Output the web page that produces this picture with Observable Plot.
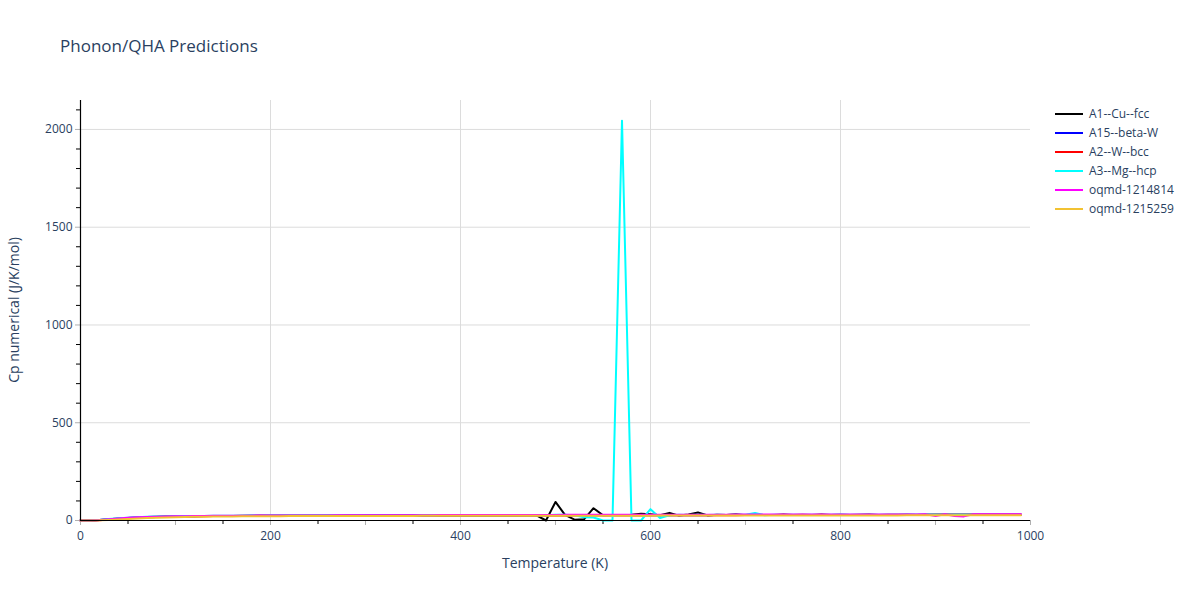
<!DOCTYPE html>
<html>
<head>
<meta charset="utf-8">
<script src="https://cdn.jsdelivr.net/npm/d3@7"></script>
<script src="https://cdn.jsdelivr.net/npm/@observablehq/plot@0.6"></script>
<style>
  html, body { margin: 0; padding: 0; background: white; }
  #wrap { position: relative; width: 1200px; height: 600px; font-family: "Open Sans", sans-serif; color: #2a3f5f; }
  #title { position: absolute; left: 60px; top: 34px; font-size: 17px; white-space: nowrap; }
  .axt { position: absolute; font-size: 14px; white-space: nowrap; }
  #xt { left: 555px; top: 553px; transform: translateX(-50%); }
  #yt { left: 13px; top: 310px; transform: translate(-50%, -50%) rotate(-90deg); }
  #legend { position: absolute; left: 1055px; top: 104px; font-size: 12px; }
  .li { display: flex; align-items: center; height: 19px; }
  .sw { width: 28px; height: 2px; margin-right: 6px; }
</style>
</head>
<body>
<div id="wrap">
  <div id="chart"></div>
  <div id="title">Phonon/QHA Predictions</div>
  <div class="axt" id="xt">Temperature (K)</div>
  <div class="axt" id="yt">Cp numerical (J/K/mol)</div>
  <div id="legend"></div>
</div>
<script>
const temperature = [0,10,20,30,40,50,60,70,80,90,100,110,120,130,140,150,160,170,180,190,200,210,220,230,240,250,260,270,280,290,300,310,320,330,340,350,360,370,380,390,400,410,420,430,440,450,460,470,480,490,500,510,520,530,540,550,560,570,580,590,600,610,620,630,640,650,660,670,680,690,700,710,720,730,740,750,760,770,780,790,800,810,820,830,840,850,860,870,880,890,900,910,920,930,940,950,960,970,980,990];

const cuFcc = [0,0.4,2.5,6.3,10.1,13.2,15.6,17.4,18.8,19.9,20.8,21.5,22.0,22.5,22.9,23.2,
  23.5,23.7,23.9,24.1,24.2,24.3,24.4,24.5,24.6,24.7,24.8,24.9,25.0,25.0,
  25.1,25.2,25.2,25.3,25.4,25.4,25.5,25.6,25.6,25.7,25.8,25.8,25.9,26.0,26.0,26.1,26.2,26.3,
  26.8,0,95,29,4,6,63,27,28,27.5,29,34,32,27,39,25,31,41,26,29,28.5,32,27.5,29,28,27.8,30.5,28.2,29.5,28.1,30.8,28.4,29.2,28.6,29.0,30.2,28.3,29.4,29.8,29.1,28.7,29.5,29.0,29.3,28.8,29.6,29.2,29.0,29.4,29.1,29.3,29.2];

const betaW = [0,0.3,2.0,5.4,9.2,12.5,15.0,17.0,18.5,19.7,20.6,21.3,21.9,22.4,22.8,23.1,
  23.4,23.6,23.8,24.0,24.1,24.2,24.3,24.4,24.5,24.6,24.7,24.8,24.8,24.9,
  25.0,25.1,25.1,25.2,25.3,25.3,25.4,25.5,25.5,25.6,25.7,25.7,25.8,25.9,25.9,26.0,26.1,26.1,
  26.2,26.3,26.3,26.4,26.5,26.5,26.6,26.7,26.7,26.8,26.9,26.9,27.0,27.1,27.1,27.2,27.3,27.3,27.4,27.5,27.5,27.6,27.7,27.7,27.8,27.9,27.9,28.0,28.1,28.1,28.2,28.3,28.3,28.4,28.5,28.5,28.6,28.7,28.7,28.8,28.9,28.9,29.0,29.1,29.1,29.2,29.3,29.3,29.4,29.5,29.5,29.6];

const wBcc = [0,0.2,1.6,4.6,8.2,11.5,14.1,16.2,17.8,19.1,20.1,20.9,21.5,22.0,22.4,22.8,
  23.1,23.3,23.5,23.7,23.9,24.0,24.1,24.2,24.3,24.4,24.5,24.6,24.7,24.7,
  24.8,24.9,24.9,25.0,25.1,25.1,25.2,25.3,25.3,25.4,25.5,25.5,25.6,25.7,25.7,25.8,25.9,25.9,
  26.0,26.1,26.1,26.2,26.3,26.3,26.4,26.5,26.5,26.6,26.7,26.7,26.8,26.9,26.9,27.0,27.1,27.1,27.2,27.3,27.3,27.4,27.5,27.5,27.6,27.7,27.7,27.8,27.9,27.9,28.0,28.1,28.1,28.2,28.3,28.3,28.4,28.5,28.5,28.6,28.7,28.7,28.8,28.9,28.9,29.0,29.1,29.1,29.2,29.3,29.3,29.4];

const mgHcp = [0,0.6,3.2,7.3,11.3,14.4,16.8,18.6,19.9,20.9,21.7,22.4,22.9,23.3,23.7,24.0,
  24.3,24.5,24.7,24.9,25.0,25.1,25.2,25.3,25.4,25.5,25.6,25.7,25.8,25.8,
  25.9,26.0,26.0,26.1,26.2,26.2,26.3,26.4,26.4,26.5,26.6,26.6,26.7,26.8,26.8,26.9,27.0,27.1,
  28.5,27,29,30,27,16,15,0,0,2045,0,0,58,13,27,29,28,30,28,29.5,28,29,30,38,27,29,28.5,30,28,29.5,28.6,29.2,30.4,28.8,29.5,29.0,29.8,28.9,29.4,30.0,29.1,29.6,29.2,29.9,29.3,29.5,29.8,29.4,29.7,29.5,29.6,29.4];

const oqmd1214814 = [0,0.5,2.8,6.8,10.8,14.0,16.4,18.2,19.6,20.7,21.6,22.3,22.9,23.4,23.8,24.1,
  24.4,24.7,24.9,25.1,25.3,25.5,25.7,25.8,26.0,26.1,26.2,26.4,26.5,26.6,
  26.7,26.8,26.9,27.0,27.1,27.2,27.3,27.4,27.5,27.6,27.7,27.8,27.9,28.0,28.1,28.2,28.3,28.4,
  28.5,28.6,28.7,28.8,28.9,29.0,29.0,29.1,29.2,29.3,29.3,29.4,29.5,29.5,29.6,29.7,29.7,29.8,29.9,29.9,30.0,30.1,30.1,30.2,30.3,30.3,30.4,30.5,30.5,30.6,30.7,30.7,30.8,30.9,30.9,31.0,31.1,31.1,31.2,31.3,31.3,31.4,22.5,31.5,23.0,21.0,31.6,31.7,31.7,31.8,31.9,31.9];

const oqmd1215259 = [0,0.1,0.9,2.8,5.4,8.0,10.4,12.5,14.3,15.8,17.0,18.0,18.8,19.5,20.1,20.6,
  21.0,21.3,21.6,21.9,22.1,22.3,22.5,22.6,22.7,22.8,22.9,23.0,23.1,23.2,
  23.3,23.3,23.4,23.5,23.5,23.6,23.7,23.7,23.8,23.8,23.9,24.0,24.0,24.1,24.1,24.2,24.2,24.3,
  24.3,24.4,24.4,24.5,24.5,24.6,24.6,24.7,24.7,24.8,24.8,24.9,24.9,25.0,25.0,25.1,25.1,25.2,25.2,25.3,25.3,25.4,25.4,25.5,25.5,25.6,25.6,25.7,25.7,25.8,25.8,25.9,25.9,26.0,26.0,26.1,26.1,26.2,26.2,26.3,26.3,26.4,26.4,26.5,26.5,26.6,26.6,26.7,26.7,26.8,26.8,26.9];

const seriesNames = ["A1--Cu--fcc","A15--beta-W","A2--W--bcc","A3--Mg--hcp","oqmd-1214814","oqmd-1215259"];
const seriesValues = [cuFcc, betaW, wBcc, mgHcp, oqmd1214814, oqmd1215259];
const seriesColors = ["#000000","#0000ff","#ff0000","#00ffff","#ff00ff","#f2c232"];

const xLabelTicks = [0,200,400,600,800,1000];
const xGridTicks = [200,400,600,800];
const xMajorTicks = [0,100,200,300,400,500,600,700,800,900,1000];
const xMinorTicks = [50,150,250,350,450,550,650,750,850,950];
const yLabelTicks = [0,500,1000,1500,2000];
const yGridTicks = [500,1000,1500,2000];
const yMinorTicks = [100,200,300,400,600,700,800,900,1100,1200,1300,1400,1600,1700,1800,1900,2100];

const plain = d => String(d);

const marks = [
  Plot.gridX(xGridTicks, {stroke: "#dcdcdc", strokeOpacity: 1, strokeWidth: 1}),
  Plot.gridY(yGridTicks, {stroke: "#dcdcdc", strokeOpacity: 1, strokeWidth: 1}),
  Plot.axisX(xMinorTicks, {tickSize: 4, stroke: "#000", tickFormat: () => "", label: null}),
  Plot.axisX(xMajorTicks, {tickSize: 5, stroke: "#b0b0b0", tickFormat: () => "", label: null}),
  Plot.axisX(xLabelTicks, {tickSize: 0, tickPadding: 11, fontSize: 12, fill: "#2a3f5f", tickFormat: plain, label: null}),
  Plot.axisY(yMinorTicks, {tickSize: 4, stroke: "#000", tickFormat: () => "", label: null}),
  Plot.axisY(yLabelTicks, {tickSize: 5, stroke: "#b0b0b0", tickPadding: 3, fontSize: 12, fill: "#2a3f5f", tickFormat: plain, label: null})
];

seriesNames.forEach((name, k) => {
  const rows = temperature.map((t, i) => ({T: t, cp: seriesValues[k][i]}));
  marks.push(Plot.line(rows, {x: "T", y: "cp", stroke: seriesColors[k], strokeWidth: 2}));
});

marks.push(Plot.ruleX([0], {stroke: "#000", strokeWidth: 1.2}));
marks.push(Plot.ruleY([0], {stroke: "#000", strokeWidth: 1.2}));

const chart = Plot.plot({
  width: 1200,
  height: 600,
  marginLeft: 80,
  marginRight: 170,
  marginTop: 100,
  marginBottom: 80,
  x: {domain: [0, 1000]},
  y: {domain: [0, 2148]},
  style: {fontFamily: "Open Sans, sans-serif", fontSize: "12px", color: "#2a3f5f", background: "white", overflow: "visible"},
  marks
});
document.getElementById("chart").appendChild(chart);

const legend = document.getElementById("legend");
seriesNames.forEach((name, k) => {
  const row = document.createElement("div");
  row.className = "li";
  const sw = document.createElement("div");
  sw.className = "sw";
  sw.style.background = seriesColors[k];
  const tx = document.createElement("span");
  tx.textContent = name;
  row.appendChild(sw);
  row.appendChild(tx);
  legend.appendChild(row);
});
</script>
</body>
</html>
